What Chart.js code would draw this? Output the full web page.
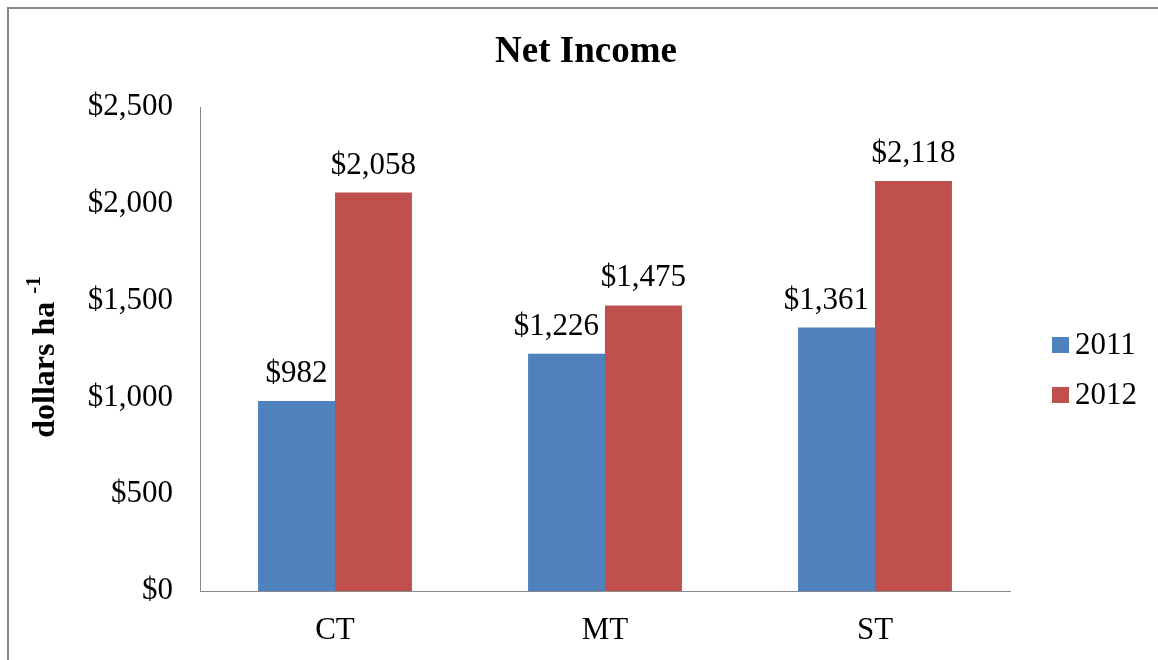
<!DOCTYPE html>
<html>
<head>
<meta charset="utf-8">
<script src="https://cdn.jsdelivr.net/npm/chart.js@4/dist/chart.umd.min.js"></script>
<style>
  body { margin: 0; background: #fff; }
  #wrap { position: relative; width: 1158px; height: 660px; overflow: hidden; }
  #frame { position: absolute; left: 7px; top: 7px; width: 1300px; height: 800px;
           border-top: 2px solid #878787; border-left: 2px solid #878787; }
  #netChart { position: absolute; left: 0; top: 0; }
</style>
</head>
<body>
<div id="wrap">
  <div id="frame"></div>
  <canvas id="netChart" width="1158" height="660"></canvas>
</div>
<script>
  const categories = ["CT", "MT", "ST"];
  const income2011 = [982, 1226, 1361];
  const income2012 = [2058, 1475, 2118];
  const yTicks = [0, 500, 1000, 1500, 2000, 2500];

  const serif = "'Liberation Serif', 'Times New Roman', serif";
  const money = v => "$" + v.toLocaleString("en-US");

  // title, y-axis title (with superscript), value labels and legend
  const decorations = {
    id: "decorations",
    afterDatasetsDraw(chart) {
      const ctx = chart.ctx;
      ctx.save();
      ctx.fillStyle = "#000";

      ctx.font = "bold 37px " + serif;
      ctx.textAlign = "center";
      ctx.textBaseline = "middle";
      ctx.fillText("Net Income", 586, 52);

      // value labels above bars (left labels nudged off the taller neighbour)
      ctx.font = "31px " + serif;
      ctx.textBaseline = "alphabetic";
      chart.data.datasets.forEach((ds, i) => {
        chart.getDatasetMeta(i).data.forEach((bar, j) => {
          const text = money(ds.data[j]);
          let x = bar.x;
          if (i === 0) {
            const half = ctx.measureText(text).width / 2;
            const limit = bar.x + bar.width / 2 - 6;
            if (x + half > limit) x = limit - half;
          }
          ctx.fillText(text, x, bar.y - 19);
        });
      });

      // y axis title
      ctx.translate(46, 357);
      ctx.rotate(-Math.PI / 2);
      ctx.textAlign = "left";
      ctx.textBaseline = "middle";
      const main = "dollars ha ";
      ctx.font = "bold 32px " + serif;
      const w1 = ctx.measureText(main).width;
      ctx.font = "bold 21px " + serif;
      const w2 = ctx.measureText("-1").width;
      const start = -(w1 + w2) / 2;
      ctx.font = "bold 32px " + serif;
      ctx.fillText(main, start, 0);
      ctx.font = "bold 21px " + serif;
      ctx.fillText("-1", start + w1, -11);
      ctx.restore();

      // legend
      ctx.save();
      ctx.font = "31px " + serif;
      ctx.textBaseline = "middle";
      chart.data.datasets.forEach((ds, i) => {
        const y = 345 + i * 50;
        ctx.fillStyle = ds.backgroundColor;
        ctx.fillRect(1052, y - 8, 17, 16);
        ctx.fillStyle = "#000";
        ctx.fillText(ds.label, 1075, y + 1);
      });
      ctx.restore();
    }
  };

  new Chart(document.getElementById("netChart"), {
    type: "bar",
    data: {
      labels: categories,
      datasets: [
        { label: "2011", data: income2011, backgroundColor: "#4F81BD" },
        { label: "2012", data: income2012, backgroundColor: "#C0504D" }
      ]
    },
    options: {
      responsive: false,
      animation: false,
      layout: { padding: { top: 107, right: 148, left: 0, bottom: 0 } },
      datasets: { bar: { categoryPercentage: 0.57, barPercentage: 1.0 } },
      plugins: {
        legend: { display: false },
        title: { display: false },
        tooltip: { enabled: false }
      },
      scales: {
        x: {
          grid: { display: false, drawTicks: false },
          border: { display: true, color: "#898989", width: 1 },
          ticks: { color: "#000", font: { family: serif, size: 31 }, padding: 21 },
          afterFit(scale) { scale.height = 69; }
        },
        y: {
          min: 0,
          max: 2500,
          afterBuildTicks(scale) { scale.ticks = yTicks.map(v => ({ value: v })); },
          grid: { display: false, drawTicks: false },
          border: { display: true, color: "#898989", width: 1 },
          ticks: { color: "#000", font: { family: serif, size: 31 }, padding: 27, callback: v => money(v) },
          afterFit(scale) { scale.width = 200; }
        }
      }
    },
    plugins: [decorations]
  });
</script>
</body>
</html>
